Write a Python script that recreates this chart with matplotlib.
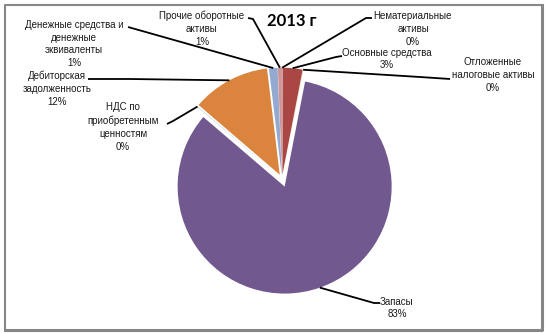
import math
import matplotlib
matplotlib.use("Agg")
import matplotlib.pyplot as plt

W, H = 547, 334

title = "2013 г"
names = [
    "Нематериальные\nактивы",
    "Основные средства",
    "Отложенные\nналоговые активы",
    "Запасы",
    "НДС по\nприобретенным\nценностям",
    "Дебиторская\nзадолженность",
    "Денежные средства и\nденежные\nэквиваленты",
    "Прочие оборотные\nактивы",
]
shares = [0.03, 3.0, 0.03, 83.2, 0.04, 11.8, 1.3, 0.6]
colors = ["#4572A7", "#AA4643", "#89A54E", "#71588F",
          "#4198AF", "#DB843D", "#93A9CF", "#D19392"]
explode = [0.04, 0.04, 0.04, 0.075, 0.04, 0.045, 0.04, 0.04]

# label centres and leader elbows, in pixels from the top-left corner
label_pos = [(413, 29), (387, 59), (493, 75), (397, 308),
             (123, 127), (57, 89), (74, 44), (202, 29)]
leader_pts = [
    [(372, 18), (366, 18)],
    [(342, 56), (336, 57)],
    [(450, 79), (420, 77)],
    [(380, 303), (374, 303)],
    [(167, 124), (173, 121)],
    [(88, 79), (130, 79)],
    [(128, 27)],
    [(248, 18), (253, 19)],
]

pie_center = (282, 179)
radius = 107

plt.rcParams['font.family'] = ['Liberation Sans', 'DejaVu Sans']

fig = plt.figure(figsize=(W / 100, H / 100), dpi=100)
ax = fig.add_axes([0, 0, 1, 1])

# pie() takes the explode offset in data units, so scale it by the radius
wedges, _ = ax.pie(shares, colors=colors,
                   explode=[e * radius for e in explode], startangle=90,
                   counterclock=False, radius=radius,
                   center=(pie_center[0], H - pie_center[1]),
                   wedgeprops=dict(linewidth=0))
ax.set_xlim(0, W)
ax.set_ylim(0, H)
ax.axis('off')

total = sum(shares)
for i, w in enumerate(wedges):
    # end of the leader: outer edge of the wedge at its middle angle
    mid = math.radians((w.theta1 + w.theta2) / 2)
    cx, cy = w.center
    ex = cx + w.r * math.cos(mid)
    ey = cy + w.r * math.sin(mid)
    xs = [p[0] for p in leader_pts[i]] + [ex]
    ys = [H - p[1] for p in leader_pts[i]] + [ey]
    ax.plot(xs, ys, color='black', lw=1.3, solid_capstyle='butt', zorder=3)

    txt = names[i] + "\n" + f"{round(shares[i] / total * 100)}%"
    lx, ly = label_pos[i]
    ax.text(lx, H - ly, txt, ha='center', va='center', fontsize=7,
            linespacing=1.35, color='#1a1a1a', zorder=4)

ax.text(292, H - 21, title, ha='center', va='center', fontsize=12,
        fontweight='bold', family=['Lato', 'DejaVu Sans'])

# chart frame with a slightly heavier right/bottom edge
ax.plot([5, 5, 542], [H - 329, H - 5, H - 5], color='#868686', lw=1.5,
        solid_capstyle='projecting')
ax.plot([542, 542, 5], [H - 5, H - 330, H - 330], color='#868686', lw=2.2,
        solid_capstyle='projecting')

fig.savefig("out.png", dpi=100)
